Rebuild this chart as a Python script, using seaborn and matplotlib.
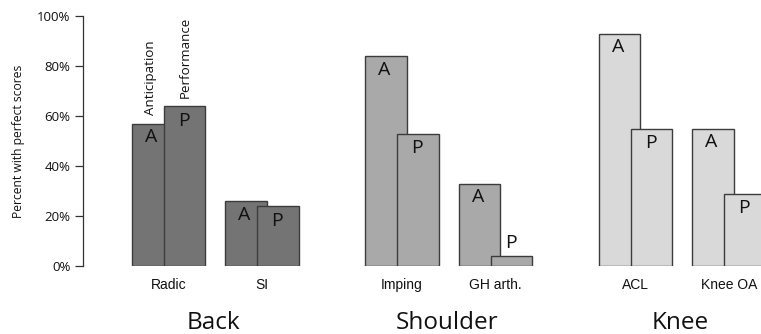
import matplotlib
matplotlib.use("Agg")
import matplotlib.pyplot as plt
import matplotlib.transforms as mtransforms
import numpy as np
import pandas as pd
import seaborn as sns

# ---- data ----
conditions = ["Radic", "SI", "Imping", "GH arth.", "ACL", "Knee OA"]
regions = ["Back", "Back", "Shoulder", "Shoulder", "Knee", "Knee"]
region_names = ["Back", "Shoulder", "Knee"]
anticipation = [57, 26, 84, 33, 93, 55]
performance = [64, 24, 53, 4, 55, 29]
yticks = [0, 20, 40, 60, 80, 100]
ytick_labels = ["0%", "20%", "40%", "60%", "80%", "100%"]

# ---- style ----
sns.set_style("ticks")
plt.rcParams["font.family"] = ["Open Sans", "DejaVu Sans"]
plt.rcParams["text.color"] = "#111111"
plt.rcParams["axes.labelcolor"] = "#111111"
plt.rcParams["xtick.color"] = "#111111"
plt.rcParams["ytick.color"] = "#333333"
plt.rcParams["ytick.labelcolor"] = "#111111"
region_colors = {"Back": "#747474", "Shoulder": "#a9a9a9", "Knee": "#d9d9d9"}
edge = "#3c3c3c"

# layout (x in pixel-like units)
group_step = 233.5
pair_step = 93.5
first_center = 168.5
offset = 16.0
bar_w = 41.5

group_idx = [region_names.index(r) for r in regions]
within_idx = [0, 1, 0, 1, 0, 1]
centers = [first_center + g * group_step + i * pair_step for g, i in zip(group_idx, within_idx)]
xa = [c - offset for c in centers]
xp = [c + offset for c in centers]

dfA = pd.DataFrame({"x": xa, "value": anticipation, "region": regions})
dfP = pd.DataFrame({"x": xp, "value": performance, "region": regions})

fig = plt.figure(figsize=(7.61, 3.34), dpi=100)
ax = fig.add_axes([83 / 761, 68 / 334, 1 - 83 / 761, 250 / 334])
ax.set_xlim(83, 761)
ax.set_ylim(0, 100)

min_diff = np.min(np.diff(sorted(xa)))
for df in (dfA, dfP):
    sns.barplot(data=df, x="x", y="value", hue="region", palette=region_colors,
                native_scale=True, width=bar_w / min_diff, edgecolor=edge,
                linewidth=1.0, errorbar=None, legend=False, ax=ax, saturation=1)

ax.set_xlim(83, 761)
ax.set_ylim(0, 100)
ax.set_xlabel("")
ax.set_ylabel("Percent with perfect scores", fontsize=8.7, labelpad=9)

# spines
for s in ["top", "right", "bottom"]:
    ax.spines[s].set_visible(False)
ax.spines["left"].set_bounds(0, 100)
ax.spines["left"].set_color("#333333")
ax.spines["left"].set_linewidth(0.9)
ax.set_yticks(yticks)
ax.set_yticklabels(ytick_labels, fontsize=9.5)
ax.tick_params(axis="y", length=6, width=0.9, color="#333333", pad=3)

ax.set_xticks(centers)
ax.set_xticklabels(conditions, fontsize=10, family=["Liberation Sans", "DejaVu Sans"])
ax.tick_params(axis="x", length=0, pad=8.5)

# A / P letters
for x, v in zip(xa, anticipation):
    ax.annotate("A", (x - 1.5, v), xytext=(0, -3.5), textcoords="offset points",
                ha="center", va="top", fontsize=14)
for x, v in zip(xp, performance):
    if v < 10:
        ax.annotate("P", (x - 1, v), xytext=(0, 3), textcoords="offset points",
                    ha="center", va="bottom", fontsize=14)
    else:
        ax.annotate("P", (x - 1, v), xytext=(0, -4), textcoords="offset points",
                    ha="center", va="top", fontsize=14)

# rotated legend-like labels on the first pair
ax.annotate("Anticipation", (xa[0] - 2, anticipation[0]), xytext=(0, 6),
            textcoords="offset points", rotation=90, ha="center", va="bottom", fontsize=9.6)
ax.annotate("Performance", (xp[0] + 1, performance[0]), xytext=(0, 6),
            textcoords="offset points", rotation=90, ha="center", va="bottom", fontsize=9.6)

# group titles
trans = mtransforms.blended_transform_factory(ax.transData, fig.transFigure)
for gi, name in enumerate(region_names):
    cs = [c for c, g in zip(centers, group_idx) if g == gi]
    ax.text(np.mean(cs) - 2, (334 - 329) / 334, name, transform=trans,
            ha="center", va="baseline", fontsize=17.5)

fig.savefig("out.png", dpi=100)
